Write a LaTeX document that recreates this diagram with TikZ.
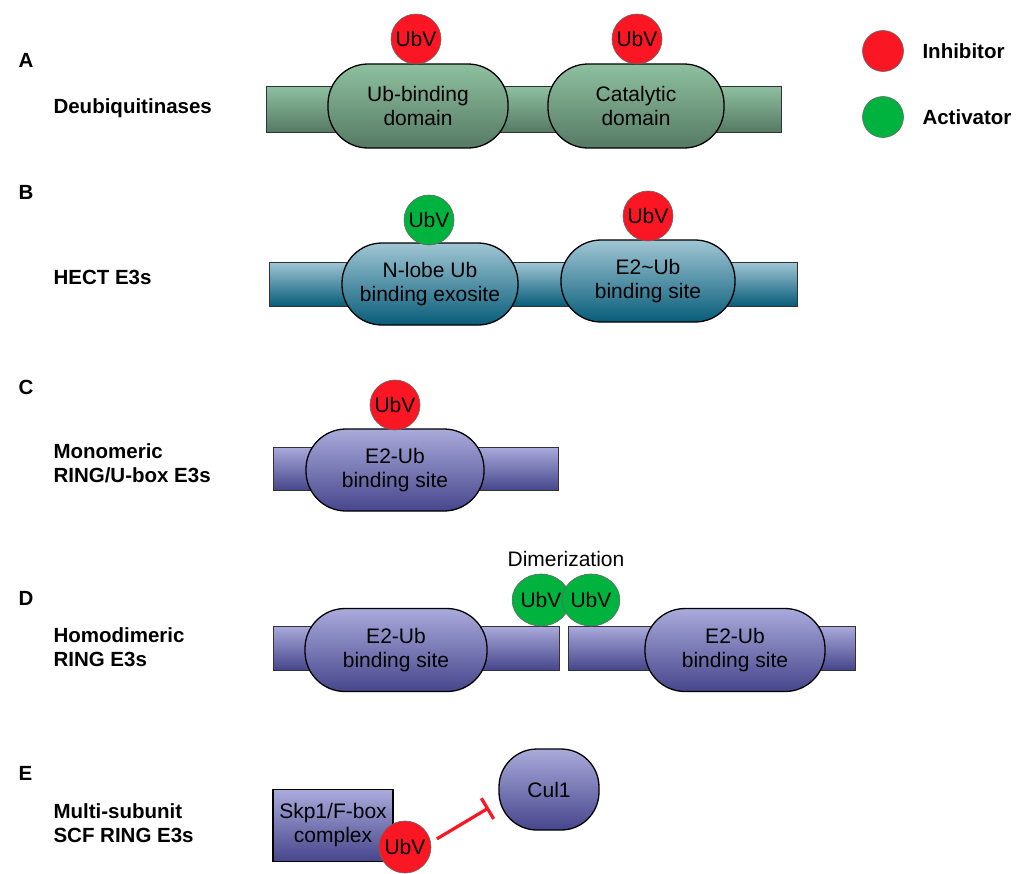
\documentclass[tikz,border=0pt]{standalone}
\usepackage{fontspec}
\setmainfont{Liberation Sans}
\usetikzlibrary{shapes.geometric,arrows.meta}

\definecolor{dubTop}{RGB}{142,192,160}
\definecolor{dubBot}{RGB}{86,122,100}
\definecolor{hectTop}{RGB}{160,198,212}
\definecolor{hectBot}{RGB}{8,92,122}
\definecolor{ringTop}{RGB}{170,170,220}
\definecolor{ringBot}{RGB}{70,70,140}
\definecolor{ubvRed}{RGB}{250,22,35}
\definecolor{ubvGreen}{RGB}{0,178,62}

\begin{document}
\begin{tikzpicture}[x=1pt,y=-1pt,
	every node/.style={font=\fontsize{21}{24}\selectfont},
	protein/.style={draw=black!80,line width=0.8pt,inner sep=0pt},
	domBox/.style={draw=black,line width=1.3pt,rounded corners=40pt,inner sep=0pt,align=center},
	ubv/.style={circle,draw=black!60,line width=0.6pt,inner sep=0pt,minimum size=50pt},
	inhib/.style={ubv,fill=ubvRed},
	activ/.style={ubv,fill=ubvGreen},
	dub/.style={top color=dubTop,bottom color=dubBot},
	hect/.style={top color=hectTop,bottom color=hectBot},
	ringE/.style={top color=ringTop,bottom color=ringBot},
	tag/.style={anchor=west,align=left,font=\fontsize{20.5}{24}\selectfont\bfseries},
	blocks/.style={draw=ubvRed,line width=3.2pt,-{Bar[width=24pt,line width=3.2pt]}}]
	\useasboundingbox (0,0) rectangle (1027,873);
	% legend
	\node[inhib,minimum size=41pt] (keyInhib) at (883,51) {};
	\node[activ,minimum size=41pt] (keyActiv) at (883,117) {};
	\node[tag] (txtInhib) at (919,51) {Inhibitor};
	\node[tag] (txtActiv) at (919,117) {Activator};
	% A
	\node[tag] (lblA) at (15,60) {A};
	\node[tag] (nameA) at (50,108) {Deubiquitinases};
	\node[protein,dub,minimum width=515pt,minimum height=46pt] (barA) at (523.5,109) {};
	\node[domBox,dub,minimum width=180pt,minimum height=84pt] (ubBind) at (418,106) {Ub-binding\\domain};
	\node[domBox,dub,minimum width=176pt,minimum height=84pt] (catDom) at (636,106) {Catalytic\\domain};
	\node[inhib] (ubvA1) at (416,39) {UbV};
	\node[inhib] (ubvA2) at (637,39) {UbV};
	% B
	\node[tag] (lblB) at (15,192) {B};
	\node[tag] (nameB) at (50,277) {HECT E3s};
	\node[protein,hect,minimum width=528pt,minimum height=44pt] (barB) at (533,284) {};
	\node[domBox,hect,minimum width=176pt,minimum height=82pt] (nLobe) at (430,284) {N-lobe Ub\\binding exosite};
	\node[domBox,hect,minimum width=174pt,minimum height=82pt] (hectSite) at (648,281) {E2\textasciitilde Ub\\binding site};
	\node[activ] (ubvB1) at (429,220) {UbV};
	\node[inhib] (ubvB2) at (648,216) {UbV};
	% C
	\node[tag] (lblC) at (15,387) {C};
	\node[tag] (nameC) at (50,463) {Monomeric\\RING/U-box E3s};
	\node[protein,ringE,minimum width=285pt,minimum height=43pt] (barC) at (415.5,468.5) {};
	\node[domBox,ringE,minimum width=178pt,minimum height=82pt] (monoSite) at (395,470) {E2-Ub\\binding site};
	\node[inhib] (ubvC) at (395,405) {UbV};
	% D
	\node[tag] (lblD) at (15,598) {D};
	\node[tag] (nameD) at (50,647) {Homodimeric\\RING E3s};
	\node[protein,ringE,minimum width=286pt,minimum height=44pt] (barD1) at (416,648) {};
	\node[protein,ringE,minimum width=287pt,minimum height=44pt] (barD2) at (711.5,648) {};
	\node[domBox,ringE,minimum width=182pt,minimum height=83pt] (dimSite1) at (396,650) {E2-Ub\\binding site};
	\node[domBox,ringE,minimum width=180pt,minimum height=83pt] (dimSite2) at (735,650) {E2-Ub\\binding site};
	\node[activ,ellipse,minimum width=46pt,minimum height=52pt] (ubvD1) at (541,600) {UbV};
	\node[activ,ellipse,minimum width=46pt,minimum height=52pt] (ubvD2) at (591,600) {UbV};
	\node (dimer) at (566,559) {Dimerization};
	% E
	\node[tag] (lblE) at (15,773) {E};
	\node[tag] (nameE) at (50,823) {Multi-subunit\\SCF RING E3s};
	\node[protein,ringE,line width=1.3pt,draw=black,minimum width=120pt,minimum height=72pt,align=center] (skp) at (333,825.5) {Skp1/F-box\\complex};
	\node[domBox,ringE,rounded corners=38pt,minimum width=100pt,minimum height=81pt] (cul1) at (549,789.5) {Cul1};
	\node[inhib,minimum size=52pt] (ubvE) at (405,847) {UbV};
	\draw[blocks,shorten <=7pt,shorten >=11pt] (ubvE.10) -- (cul1.194);
\end{tikzpicture}
\end{document}
